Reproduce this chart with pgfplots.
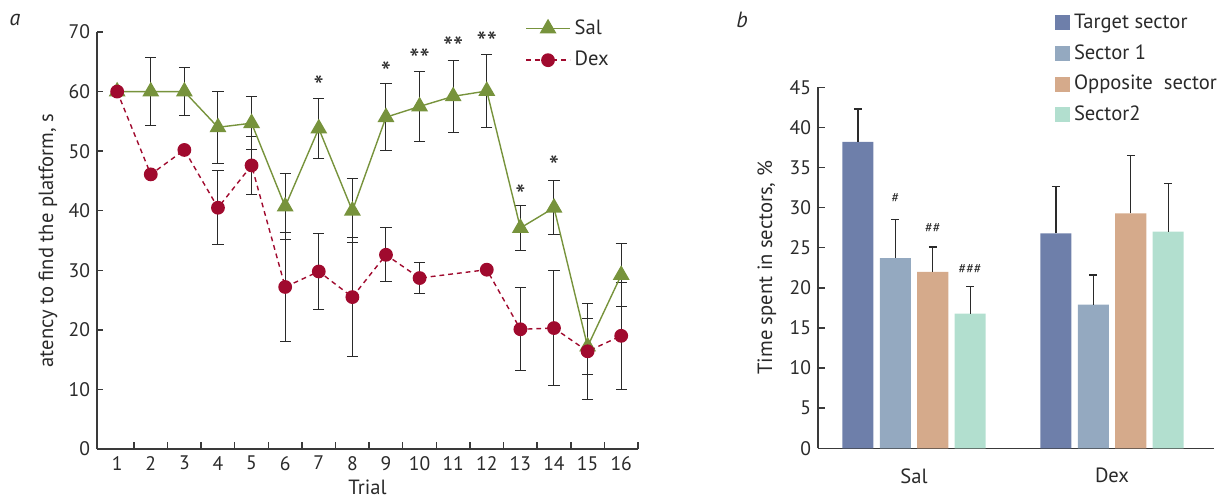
\documentclass[border=0pt]{standalone}
\usepackage{pgfplots}
\pgfplotsset{compat=1.18}
\usepackage{fontspec}
\setmainfont{PT Sans}
\setsansfont{PT Sans}
\definecolor{salcol}{HTML}{77933C}
\definecolor{dexcol}{HTML}{A00A2E}
\definecolor{axiscol}{HTML}{3A3A3A}
\definecolor{textcol}{HTML}{2A2A2A}
\definecolor{tcol}{HTML}{6E7FAA}
\definecolor{s1col}{HTML}{94A9C0}
\definecolor{opcol}{HTML}{D5AA8B}
\definecolor{s2col}{HTML}{B2DFCF}
\newcommand{\tickfont}{\fontsize{9.8}{11}\selectfont}
\newcommand{\labfont}{\fontsize{10.3}{12}\selectfont}

\pgfplotstableread{
x y
1 60
2 60
3 60
4 54
5 54.7
6 40.7
7 53.8
8 40
9 55.7
10 57.5
11 59.2
12 60.1
13 37.1
14 40.5
15 17.2
16 29.2
}\saldata
\pgfplotstableread{
x y e
2 60 5.7
3 60 4
4 54 6
5 54.7 4.4
6 40.7 5.6
7 53.8 5
8 40 5.4
9 55.7 5.6
10 57.5 5.8
11 59.2 6
12 60.1 6.1
13 37.1 3.8
14 40.5 4.5
15 17.2 4.7
16 29.2 5.3
}\salerr
\pgfplotstableread{
x y
1 60
2 46.1
3 50.2
4 40.5
5 47.6
6 27.2
7 29.8
8 25.5
9 32.6
10 28.7
12 30.1
13 20.1
14 20.3
15 16.4
16 19
}\dexdata
\pgfplotstableread{
x y e
4 40.5 6.2
5 47.6 4.8
6 27.2 9.1
7 29.8 6.3
8 25.5 10
9 32.6 4.5
10 28.7 2.6
13 20.1 7
14 20.3 9.6
15 16.4 8.1
16 19 9
}\dexerr
\pgfplotstableread{
x y t
7 62 *
9 64.2 *
10 66.4 **
11 68.5 **
12 69.3 **
13 43.6 *
14 48.5 *
}\stars

\begin{document}
\begin{tikzpicture}
\path[use as bounding box] (0,0) rectangle (615pt,249.5pt);
\node[font=\fontsize{11}{12}\selectfont\itshape, text=textcol] at (7.5pt,239.5pt) {a};
\node[font=\fontsize{11}{12}\selectfont\itshape, text=textcol] at (371pt,239.5pt) {b};

\begin{axis}[
  at={(48.5pt,25pt)}, anchor=south west,
  scale only axis, width=270.5pt, height=208.5pt,
  xmin=0.4, xmax=16.5, ymin=0, ymax=70,
  clip=false,
  axis x line=bottom, axis y line=left,
  axis line style={-, draw=axiscol, line width=0.7pt},
  xtick={1,...,16}, ytick={0,10,...,70},
  minor xtick={1.5,2.5,...,16.5},
  major x tick style={draw=none},
  tick align=inside, major tick length=3pt, minor tick length=3.5pt,
  tick style={draw=axiscol, line width=0.7pt},
  minor tick style={draw=axiscol, line width=0.7pt},
  ticklabel style={font=\tickfont, text=textcol},
  /pgf/number format/assume math mode=true,
  xlabel={Trial}, ylabel={atency to find the platform, s},
  every axis x label/.style={at={(axis description cs:0.5,-0.092)}, anchor=center, font=\labfont, text=textcol},
  every axis y label/.style={at={(axis description cs:-0.0906,0.5)}, rotate=90, anchor=center, font=\labfont, text=textcol},
  legend image code/.code={\draw[mark repeat=2,mark phase=2,#1] plot coordinates {(0pt,0pt) (11pt,0pt) (22pt,0pt)};},
  legend style={at={(axis description cs:0.791,1.04)}, anchor=north west, draw=none, fill=none, inner sep=0pt, font=\labfont, text=textcol, row sep=3pt},
  legend cell align=left,
]
\addplot[draw=none, mark=none, forget plot,
  error bars/.cd, y dir=both, y explicit,
  error bar style={draw=textcol, line width=0.5pt},
  error mark options={draw=textcol, rotate=90, mark size=2.8pt, line width=0.5pt}]
  table[x=x, y=y, y error=e] {\salerr};
\addplot[draw=none, mark=none, forget plot,
  error bars/.cd, y dir=both, y explicit,
  error bar style={draw=textcol, line width=0.5pt},
  error mark options={draw=textcol, rotate=90, mark size=2.8pt, line width=0.5pt}]
  table[x=x, y=y, y error=e] {\dexerr};
\addplot[salcol, line width=0.7pt, mark=triangle*, mark size=4.2pt, mark options={solid, fill=salcol, draw=salcol}]
  table[x=x, y=y] {\saldata};
\addlegendentry{Sal}
\addplot[dexcol, line width=0.7pt, dash pattern=on 2.4pt off 2pt, mark=*, mark size=3.1pt, mark options={solid, fill=dexcol, draw=dexcol}]
  table[x=x, y=y] {\dexdata};
\addlegendentry{Dex}
\addplot[draw=none, mark=none, forget plot, nodes near coords, point meta=explicit symbolic,
  every node near coord/.append style={anchor=center, yshift=-3pt, inner sep=0pt, font=\fontsize{14.5}{15}\selectfont, text=textcol}]
  table[x=x, y=y, meta=t] {\stars};
\end{axis}

\begin{axis}[
  at={(409pt,25.35pt)}, anchor=south west,
  scale only axis, width=198pt, height=180.5pt,
  xmin=-0.485, xmax=1.515, ymin=0, ymax=45,
  clip=false,
  axis x line=bottom, axis y line=left,
  axis line style={-, draw=axiscol, line width=0.7pt},
  xtick={0,1}, xticklabels={Sal,Dex},
  major x tick style={draw=none},
  ytick={0,5,...,45},
  tick align=inside, major tick length=3.5pt,
  tick style={draw=axiscol, line width=0.7pt},
  yticklabel style={font=\tickfont, text=textcol},
  xticklabel style={font=\labfont, text=textcol, yshift=-3pt},
  /pgf/number format/assume math mode=true,
  ylabel={Time spent in sectors, \%},
  every axis y label/.style={at={(axis description cs:-0.129,0.5)}, rotate=90, anchor=center, font=\labfont, text=textcol},
  ybar, bar width=0.157, bar shift=0pt,
  legend style={at={(axis description cs:0.598,1.215)}, anchor=north west, draw=none, fill=none, inner sep=0pt, font=\labfont, text=textcol, row sep=2.5pt},
  legend cell align=left,
]
\addlegendimage{legend image code/.code={\fill[tcol] (0pt,-3.5pt) rectangle (7pt,3.5pt);}}
\addlegendentry{Target sector}
\addlegendimage{legend image code/.code={\fill[s1col] (0pt,-3.5pt) rectangle (7pt,3.5pt);}}
\addlegendentry{Sector 1}
\addlegendimage{legend image code/.code={\fill[opcol] (0pt,-3.5pt) rectangle (7pt,3.5pt);}}
\addlegendentry{Opposite\ \ sector}
\addlegendimage{legend image code/.code={\fill[s2col] (0pt,-3.5pt) rectangle (7pt,3.5pt);}}
\addlegendentry{Sector2}
\addplot[fill=tcol, draw=none, forget plot,
  error bars/.cd, y dir=plus, y explicit,
  error bar style={draw=textcol, line width=0.6pt},
  error mark options={draw=textcol, rotate=90, mark size=2pt, line width=0.6pt}]
  coordinates {(-0.2835,38.2) +- (0,4.1) (0.7165,26.8) +- (0,5.8)};
\addplot[fill=s1col, draw=none, forget plot,
  error bars/.cd, y dir=plus, y explicit,
  error bar style={draw=textcol, line width=0.6pt},
  error mark options={draw=textcol, rotate=90, mark size=2pt, line width=0.6pt}]
  coordinates {(-0.0945,23.7) +- (0,4.8) (0.9055,17.9) +- (0,3.7)};
\addplot[fill=opcol, draw=none, forget plot,
  error bars/.cd, y dir=plus, y explicit,
  error bar style={draw=textcol, line width=0.6pt},
  error mark options={draw=textcol, rotate=90, mark size=2pt, line width=0.6pt}]
  coordinates {(0.0945,22.0) +- (0,3.1) (1.0945,29.3) +- (0,7.2)};
\addplot[fill=s2col, draw=none, forget plot,
  error bars/.cd, y dir=plus, y explicit,
  error bar style={draw=textcol, line width=0.6pt},
  error mark options={draw=textcol, rotate=90, mark size=2pt, line width=0.6pt}]
  coordinates {(0.2835,16.8) +- (0,3.4) (1.2835,27.0) +- (0,6.0)};
\addplot[draw=none, fill=none, forget plot, nodes near coords={\#},
  every node near coord/.append style={anchor=center, font=\fontsize{7}{8}\selectfont, text=textcol}]
  coordinates {(-0.0945,31.2)};
\addplot[draw=none, fill=none, forget plot, nodes near coords={\#\#},
  every node near coord/.append style={anchor=center, font=\fontsize{7}{8}\selectfont, text=textcol}]
  coordinates {(0.0945,27.5)};
\addplot[draw=none, fill=none, forget plot, nodes near coords={\#\#\#},
  every node near coord/.append style={anchor=center, font=\fontsize{7}{8}\selectfont, text=textcol}]
  coordinates {(0.2835,22.4)};
\end{axis}
\end{tikzpicture}
\end{document}
